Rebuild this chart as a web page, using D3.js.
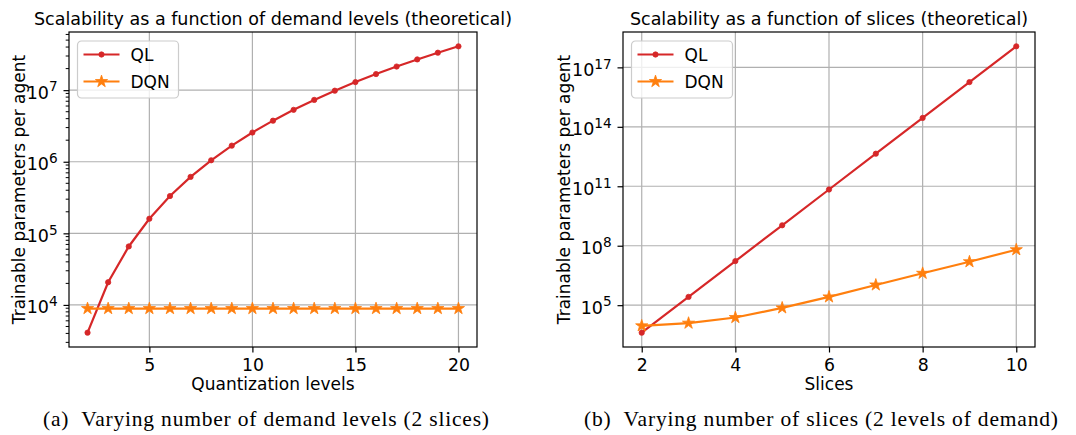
<!DOCTYPE html>
<html>
<head>
<meta charset="utf-8">
<script src="https://cdn.jsdelivr.net/npm/d3@7"></script>
<style>
  body { margin: 0; background: #fff; }
  svg { display: block; font-family: "DejaVu Sans", sans-serif; }
  .caption { font-family: "Liberation Serif", serif; white-space: pre; }
</style>
</head>
<body>
<div id="chart"></div>
<script>
// Panel (a): demand levels, 2 slices
const levels = [2, 3, 4, 5, 6, 7, 8, 9, 10, 11, 12, 13, 14, 15, 16, 17, 18, 19, 20];
const qlByLevel = [4096, 20736, 65536, 160000, 331776, 614656, 1048576, 1679616, 2560000, 3748096,
  5308416, 7311616, 9834496, 12960000, 16777216, 21381376, 26873856, 33362176, 40960000];
const dqnByLevel = [8900, 8900, 8900, 8900, 8900, 8900, 8900, 8900, 8900, 8900,
  8900, 8900, 8900, 8900, 8900, 8900, 8900, 8900, 8900];

// Panel (b): slices, 2 levels of demand
const slices = [2, 3, 4, 5, 6, 7, 8, 9, 10];
const qlBySlice = [4096, 262144, 16777216, 1073741824, 68719476736, 4.398e12, 2.815e14, 1.801e16, 1.153e18];
const dqnBySlice = [9080, 12400, 23800, 73100, 262000, 1050000, 4070000, 15600000, 63000000];

const levelTicks = [5, 10, 15, 20];
const sliceTicks = [2, 4, 6, 8, 10];
const levelExps = [4, 5, 6, 7];
const sliceExps = [5, 8, 11, 14, 17];

const RED = "#d62728", ORANGE = "#ff7f0e";
const FONT = 17;

const svg = d3.select("#chart").append("svg")
  .attr("width", 1076)
  .attr("height", 435);

function markerPath(s) {
  return s.marker === "star"
    ? d3.symbol(d3.symbolStar, 46)()
    : d3.symbol(d3.symbolCircle, 22)();
}

function drawPanel(cfg) {
  const m = cfg.box;

  // x with matplotlib-like 5% margins
  const [x0, x1] = d3.extent(cfg.xs);
  const xp = (x1 - x0) * 0.05;
  const x = d3.scaleLinear().domain([x0 - xp, x1 + xp]).range([m.left, m.right]);

  // log y with 5% margins in decades
  const all = cfg.series.flatMap(s => s.values);
  const lo = Math.log10(d3.min(all)), hi = Math.log10(d3.max(all));
  const yp = (hi - lo) * 0.05;
  const y = d3.scaleLog().domain([10 ** (lo - yp), 10 ** (hi + yp)]).range([m.bottom, m.top]);

  const g = svg.append("g");
  const majors = cfg.exps.map(e => 10 ** e);

  // grid
  g.append("g").selectAll("line").data(cfg.xTicks).join("line")
    .attr("x1", d => x(d)).attr("x2", d => x(d))
    .attr("y1", m.top).attr("y2", m.bottom)
    .attr("stroke", "#b0b0b0").attr("stroke-width", 1.2);
  g.append("g").selectAll("line").data(majors).join("line")
    .attr("x1", m.left).attr("x2", m.right)
    .attr("y1", d => y(d)).attr("y2", d => y(d))
    .attr("stroke", "#b0b0b0").attr("stroke-width", 1.2);

  // clip for the data lines
  const clipId = "clip-" + cfg.id;
  svg.append("clipPath").attr("id", clipId).append("rect")
    .attr("x", m.left).attr("y", m.top)
    .attr("width", m.right - m.left).attr("height", m.bottom - m.top);

  const plot = g.append("g").attr("clip-path", `url(#${clipId})`);
  const line = d3.line().x(d => x(d[0])).y(d => y(d[1]));

  cfg.series.forEach(s => {
    const pts = cfg.xs.map((v, i) => [v, s.values[i]]);
    plot.append("path")
      .datum(pts)
      .attr("fill", "none")
      .attr("stroke", s.color)
      .attr("stroke-width", 2.2)
      .attr("d", line);
    plot.append("g").selectAll("path").data(pts).join("path")
      .attr("transform", d => `translate(${x(d[0])},${y(d[1])})`)
      .attr("d", markerPath(s))
      .attr("fill", s.color)
      .attr("stroke", s.color)
      .attr("stroke-width", 0.8);
  });

  // axes
  const xAxis = d3.axisBottom(x).tickValues(cfg.xTicks).tickSize(5.5).tickPadding(5.8).tickSizeOuter(0);
  const xg = g.append("g")
    .attr("transform", `translate(0,${m.bottom})`)
    .call(xAxis);
  xg.select(".domain").remove();
  xg.selectAll("line").attr("stroke-width", 1.2);
  xg.selectAll("text").attr("font-size", FONT + 0.3).attr("font-family", "DejaVu Sans").attr("fill", "#000");

  const yAxis = d3.axisLeft(y).tickValues(majors).tickSize(5.5).tickPadding(5.8).tickFormat(() => "");
  const yg = g.append("g")
    .attr("transform", `translate(${m.left},0)`)
    .call(yAxis);
  yg.select(".domain").remove();
  yg.selectAll("line").attr("stroke-width", 1.2);
  yg.selectAll("text")
    .attr("font-size", FONT + 0.5).attr("font-family", "DejaVu Sans").attr("fill", "#000")
    .attr("dy", "0.45em")
    .each(function(d) {
      const t = d3.select(this);
      t.append("tspan").text("10");
      t.append("tspan").attr("dy", "-0.52em").attr("font-size", (FONT + 0.5) * 0.78)
        .text(Math.round(Math.log10(d)));
    });

  if (cfg.minor) {
    const [d0, d1] = y.domain();
    const minors = [];
    for (let e = Math.floor(Math.log10(d0)); e <= Math.ceil(Math.log10(d1)); e++) {
      for (let k = 2; k <= 9; k++) {
        const v = k * 10 ** e;
        if (v >= d0 && v <= d1) minors.push(v);
      }
    }
    g.append("g").selectAll("line").data(minors).join("line")
      .attr("x1", m.left - 3.3).attr("x2", m.left)
      .attr("y1", d => y(d)).attr("y2", d => y(d))
      .attr("stroke", "#000").attr("stroke-width", 1);
  }

  // spines
  g.append("rect")
    .attr("x", m.left).attr("y", m.top)
    .attr("width", m.right - m.left).attr("height", m.bottom - m.top)
    .attr("fill", "none").attr("stroke", "#000").attr("stroke-width", 1.2);

  const cx = (m.left + m.right) / 2;

  // title
  g.append("text")
    .attr("x", cx).attr("y", 25)
    .attr("text-anchor", "middle")
    .attr("font-size", 17.5)
    .text(cfg.title);

  // axis labels
  g.append("text")
    .attr("x", cx).attr("y", 390)
    .attr("text-anchor", "middle")
    .attr("font-size", FONT)
    .text(cfg.xLabel);

  g.append("text")
    .attr("transform", `translate(${cfg.yLabelX},${(m.top + m.bottom) / 2}) rotate(-90)`)
    .attr("text-anchor", "middle")
    .attr("font-size", FONT)
    .text("Trainable parameters per agent");

  // legend
  const lx = m.left + 8.5, ly = m.top + 9;
  const leg = g.append("g").attr("transform", `translate(${lx},${ly})`);
  leg.append("rect")
    .attr("width", 101).attr("height", 57)
    .attr("rx", 4)
    .attr("fill", "#fff").attr("fill-opacity", 0.8)
    .attr("stroke", "#cccccc").attr("stroke-width", 1.2);
  cfg.series.forEach((s, i) => {
    const ry = 13.5 + i * 27;
    leg.append("line")
      .attr("x1", 6).attr("x2", 42)
      .attr("y1", ry).attr("y2", ry)
      .attr("stroke", s.color).attr("stroke-width", 2.2);
    leg.append("path")
      .attr("transform", `translate(24,${ry})`)
      .attr("d", markerPath(s))
      .attr("fill", s.color).attr("stroke", s.color).attr("stroke-width", 0.8);
    leg.append("text")
      .attr("x", 53).attr("y", ry)
      .attr("dy", "0.36em")
      .attr("font-size", FONT)
      .text(s.name);
  });

  // caption, stretched to the width it has in the paper
  svg.append("text")
    .attr("class", "caption")
    .attr("x", cfg.captionX).attr("y", 426)
    .attr("text-anchor", "middle")
    .attr("font-size", 21.5)
    .attr("textLength", cfg.captionWidth)
    .attr("lengthAdjust", "spacing")
    .text(cfg.caption);
}

drawPanel({
  id: "a",
  box: { left: 69, right: 477, top: 32, bottom: 347 },
  xs: levels,
  xTicks: levelTicks,
  exps: levelExps,
  minor: true,
  series: [
    { name: "QL", values: qlByLevel, color: RED, marker: "circle" },
    { name: "DQN", values: dqnByLevel, color: ORANGE, marker: "star" }
  ],
  title: "Scalability as a function of demand levels (theoretical)",
  xLabel: "Quantization levels",
  yLabelX: 25,
  caption: "(a)  Varying number of demand levels (2 slices)",
  captionX: 266,
  captionWidth: 446
});

drawPanel({
  id: "b",
  box: { left: 623, right: 1035, top: 32, bottom: 347 },
  xs: slices,
  xTicks: sliceTicks,
  exps: sliceExps,
  minor: false,
  series: [
    { name: "QL", values: qlBySlice, color: RED, marker: "circle" },
    { name: "DQN", values: dqnBySlice, color: ORANGE, marker: "star" }
  ],
  title: "Scalability as a function of slices (theoretical)",
  xLabel: "Slices",
  yLabelX: 570,
  caption: "(b)  Varying number of slices (2 levels of demand)",
  captionX: 821,
  captionWidth: 474
});
</script>
</body>
</html>
